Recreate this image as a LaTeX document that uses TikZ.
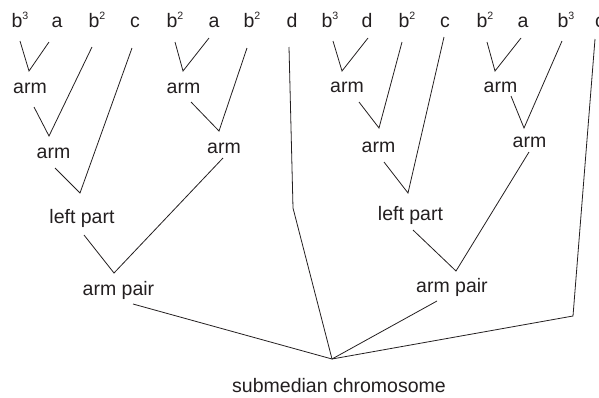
\documentclass[tikz,border=0pt]{standalone}
\usepackage{fontspec}
\setmainfont{Liberation Sans}
\definecolor{ink}{RGB}{35,31,32}
\newcommand\pw[1]{\raisebox{4pt}{\fontsize{5.3}{6}\selectfont #1}}
\begin{document}
\begin{tikzpicture}[x=0.5pt,y=-0.5pt,
  lbl/.style={anchor=base,inner sep=0pt,text=ink,font=\fontsize{9.75}{11}\selectfont},
  edge/.style={draw=ink,line width=0.4pt,line join=miter}]
\useasboundingbox (0,0) rectangle (599,397);

% leaf symbols along the top
\node[lbl] (t1)  at (20,27)  {b\pw{3}};
\node[lbl] (t2)  at (57,27)  {a};
\node[lbl] (t3)  at (97,27)  {b\pw{2}};
\node[lbl] (t4)  at (135,27) {c};
\node[lbl] (t5)  at (175,27) {b\pw{2}};
\node[lbl] (t6)  at (214,27) {a};
\node[lbl] (t7)  at (252,27) {b\pw{2}};
\node[lbl] (t8)  at (292,27) {d};
\node[lbl] (t9)  at (330,27) {b\pw{3}};
\node[lbl] (t10) at (367,27) {d};
\node[lbl] (t11) at (407,27) {b\pw{2}};
\node[lbl] (t12) at (445,27) {c};
\node[lbl] (t13) at (485,27) {b\pw{2}};
\node[lbl] (t14) at (523,27) {a};
\node[lbl] (t15) at (566,27) {b\pw{3}};
\node[lbl] (t16) at (600,27) {c};

% inner labels
\node[lbl] (armA) at (30,93)    {arm};
\node[lbl] (armB) at (53.5,158) {arm};
\node[lbl] (lpL)  at (82,223)   {left part};
\node[lbl] (apL)  at (118.5,295){arm pair};
\node[lbl] (armC) at (183.5,93) {arm};
\node[lbl] (armD) at (224,153)  {arm};
\node[lbl] (armE) at (347,92)   {arm};
\node[lbl] (armF) at (378.5,152){arm};
\node[lbl] (lpR)  at (410.5,220){left part};
\node[lbl] (apR)  at (452,292)  {arm pair};
\node[lbl] (armG) at (500.5,92) {arm};
\node[lbl] (armH) at (529.5,147){arm};
\node[lbl] (root) at (339,392)  {submedian chromosome};

% connector ends: below each child, above each parent
\coordinate (t1-s)  at (20,41);
\coordinate (t2-s)  at (49,42);
\coordinate (t3-s)  at (92,47);
\coordinate (t4-s)  at (132,48);
\coordinate (t5-s)  at (175,42);
\coordinate (t6-s)  at (209,38);
\coordinate (t7-s)  at (247,48);
\coordinate (t8-s)  at (289,47);
\coordinate (t9-s)  at (333,41);
\coordinate (t10-s) at (368,38);
\coordinate (t11-s) at (402,42);
\coordinate (t12-s) at (444,37);
\coordinate (t13-s) at (487,42);
\coordinate (t14-s) at (521,38);
\coordinate (t15-s) at (562,41);
\coordinate (t16-s) at (595,39);

\coordinate (armA-n) at (29,71);   \coordinate (armA-s) at (34,107);
\coordinate (armB-n) at (49,136);  \coordinate (armB-s) at (55,168);
\coordinate (lpL-n)  at (80,193);  \coordinate (lpL-s)  at (84,235);
\coordinate (apL-n)  at (114,273); \coordinate (apL-s)  at (133,304);
\coordinate (armC-n) at (183,71);  \coordinate (armC-s) at (191,102);
\coordinate (armD-n) at (219,131); \coordinate (armD-s) at (223,158);
\coordinate (armE-n) at (342,71);  \coordinate (armE-s) at (359,102);
\coordinate (armF-n) at (379,128); \coordinate (armF-s) at (384,162);
\coordinate (lpR-n)  at (408,193); \coordinate (lpR-s)  at (413,230);
\coordinate (apR-n)  at (456,271); \coordinate (apR-s)  at (437,301);
\coordinate (armG-n) at (495,71);  \coordinate (armG-s) at (511,96);
\coordinate (armH-n) at (524,128); \coordinate (armH-s) at (529,152);
\coordinate (root-n) at (332,359);
\coordinate (dbend)  at (293,208);
\coordinate (cbend)  at (573,316);

% left arm pair
\draw[edge] (t1-s) -- (armA-n) -- (t2-s);
\draw[edge] (armA-s) -- (armB-n) -- (t3-s);
\draw[edge] (armB-s) -- (lpL-n) -- (t4-s);
\draw[edge] (t5-s) -- (armC-n) -- (t6-s);
\draw[edge] (armC-s) -- (armD-n) -- (t7-s);
\draw[edge] (lpL-s) -- (apL-n) -- (armD-s);

% right arm pair
\draw[edge] (t9-s) -- (armE-n) -- (t10-s);
\draw[edge] (armE-s) -- (armF-n) -- (t11-s);
\draw[edge] (armF-s) -- (lpR-n) -- (t12-s);
\draw[edge] (t13-s) -- (armG-n) -- (t14-s);
\draw[edge] (armG-s) -- (armH-n) -- (t15-s);
\draw[edge] (lpR-s) -- (apR-n) -- (armH-s);

% chromosome
\draw[edge] (t8-s) -- (dbend) -- (root-n);
\draw[edge] (apL-s) -- (root-n);
\draw[edge] (apR-s) -- (root-n);
\draw[edge] (t16-s) -- (cbend) -- (root-n);
\end{tikzpicture}
\end{document}
